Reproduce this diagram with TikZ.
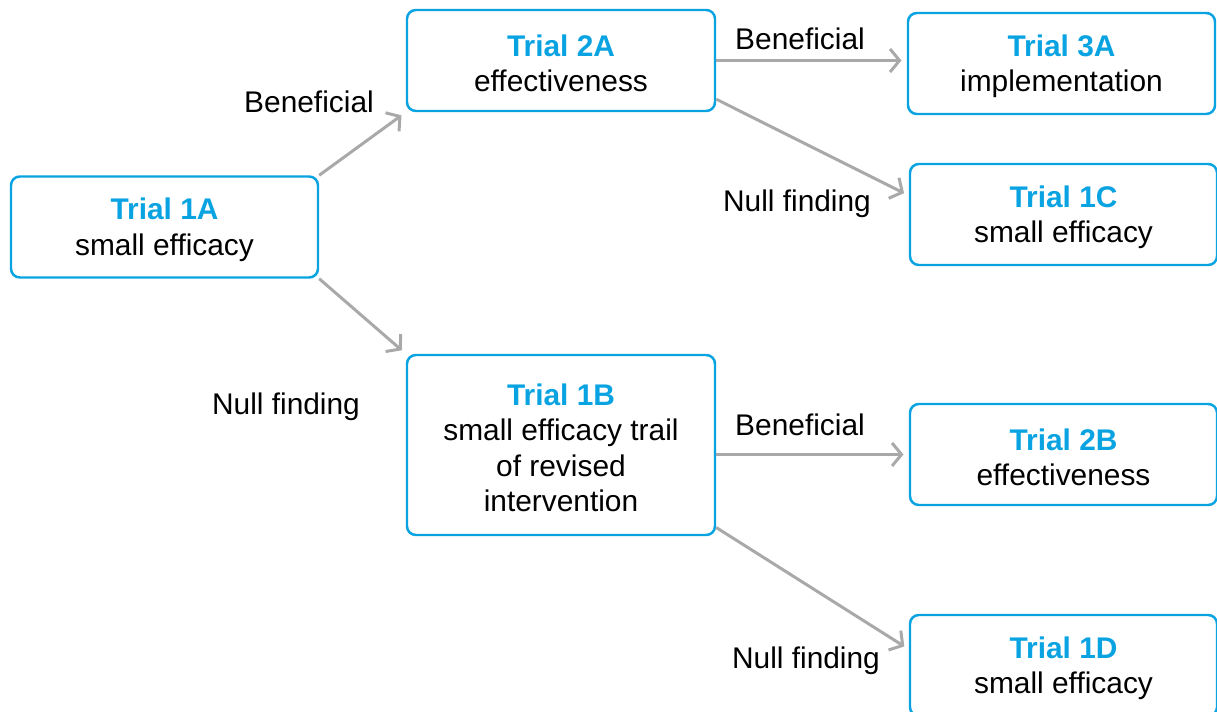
\documentclass[tikz,border=0pt]{standalone}
\usepackage{fontspec}
\setmainfont{Liberation Sans}
\usepackage{xcolor}
\usetikzlibrary{arrows.meta,positioning,calc}
\definecolor{trialblue}{HTML}{0AA3E2}
\definecolor{arrowgray}{HTML}{A9A9A9}

\begin{document}
\begin{tikzpicture}[
    trial/.style={draw=trialblue, line width=1.4pt, rounded corners=5pt, minimum height=2.02cm, minimum width=6.14cm, align=center, font=\fontsize{17}{20}\selectfont, inner sep=0pt},
    lbl/.style={font=\fontsize{17}{20}\selectfont, inner sep=0pt},
    arr/.style={-{Straight Barb[length=1.9mm, width=4.6mm]}, line width=1.7pt, draw=arrowgray, shorten >=3pt}
]
\useasboundingbox (0,0) rectangle (24.34,-14.24);

\node[trial] (t1A) at (3.29,-4.54) {\rule{0pt}{15.5pt}\textcolor{trialblue}{\textbf{Trial 1A}}\\small efficacy};
\node[trial, minimum width=6.16cm] (t2A) at (11.22,-1.21) {\rule{0pt}{15.5pt}\textcolor{trialblue}{\textbf{Trial 2A}}\\effectiveness};
\node[trial] (t3A) at (21.23,-1.27) {\rule{0pt}{15.5pt}\textcolor{trialblue}{\textbf{Trial 3A}}\\implementation};
\node[trial] (t1C) at (21.27,-4.29) {\rule{0pt}{15.5pt}\textcolor{trialblue}{\textbf{Trial 1C}}\\small efficacy};
\node[trial, minimum width=6.16cm, minimum height=3.6cm] (t1B) at (11.22,-8.90) {\rule{0pt}{15.5pt}\textcolor{trialblue}{\textbf{Trial 1B}}\\small efficacy trail\\of revised\\intervention};
\node[trial] (t2B) at (21.27,-9.09) {\rule{0pt}{15.5pt}\textcolor{trialblue}{\textbf{Trial 2B}}\\effectiveness};
\node[trial] (t1D) at (21.27,-13.31) {\rule{0pt}{15.5pt}\textcolor{trialblue}{\textbf{Trial 1D}}\\small efficacy};

\draw[arr] (t1A.north east) -- (t2A.south west);
\draw[arr] (t1A.south east) -- (t1B.north west);
\draw[arr] (t2A.east) -- (t2A.east -| t3A.west);
\draw[arr] (t2A.-14) -- (t1C.173);
\draw[arr] (t2B.west -| t1B.east) -- (t2B.west);
\draw[arr] (t1B.-28) -- (t1D.174);

\node[lbl] (ben1) at (6.18,-2.04) {Beneficial};
\node[lbl] (null1) at (5.72,-8.13) {Null finding};
\node[lbl] (ben2) at (16.0,-0.78) {Beneficial};
\node[lbl] (null2) at (15.94,-4.07) {Null finding};
\node[lbl] (ben3) at (16.0,-8.50) {Beneficial};
\node[lbl] (null3) at (16.12,-13.22) {Null finding};
\end{tikzpicture}
\end{document}
